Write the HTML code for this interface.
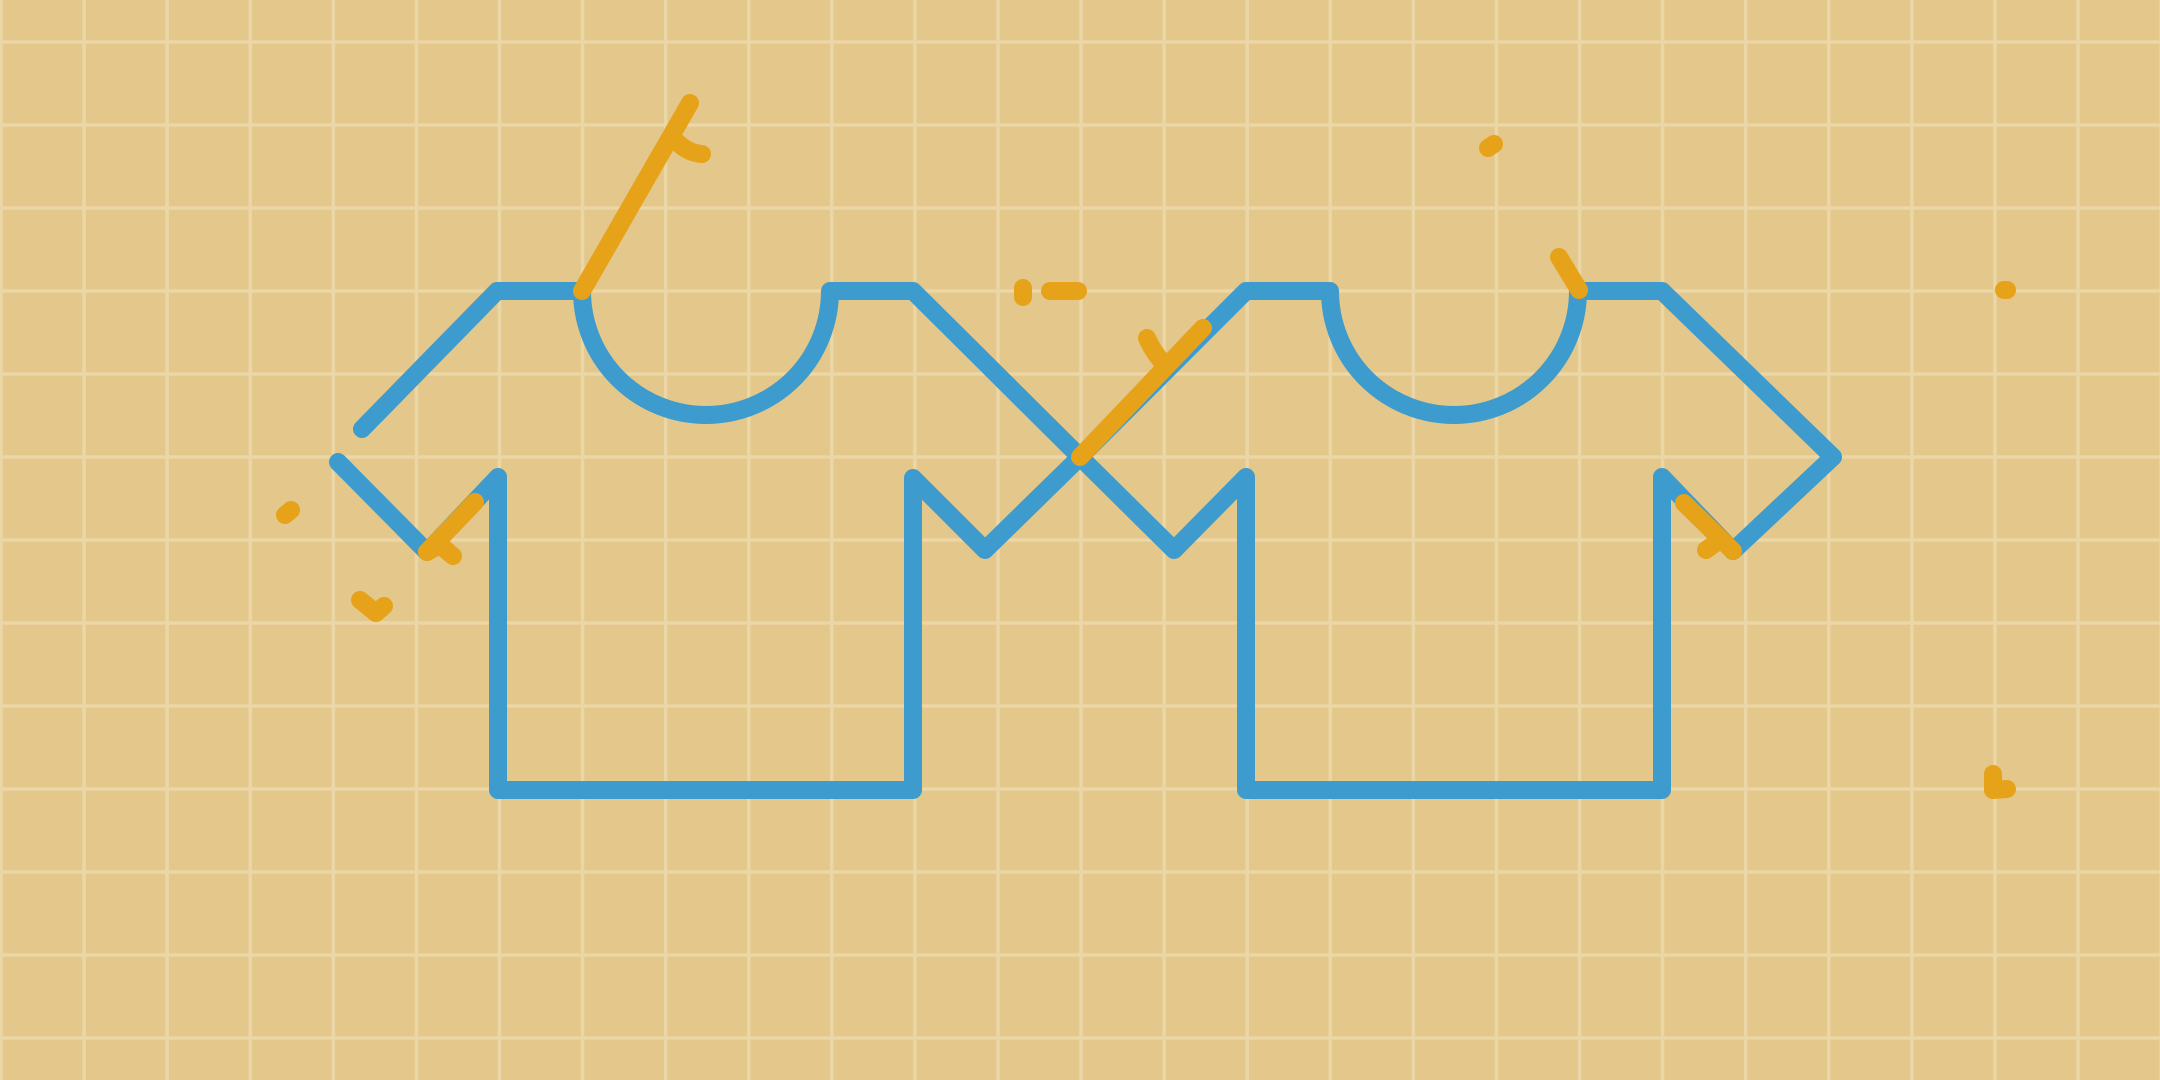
<!DOCTYPE html>
<html><head><meta charset="utf-8"><style>html,body{margin:0;padding:0;background:#e4c78a}svg{display:block}</style></head>
<body>
<svg width="2160" height="1080" viewBox="0 0 2160 1080">
<rect width="2160" height="1080" fill="#e4c78a"/>
<g id="grid" stroke="#ebd6a6" stroke-width="3.5"></g>
<g fill="none" stroke="#3e9bcd" stroke-width="18" stroke-linecap="round" stroke-linejoin="round">
<path d="M362,429 L497,291 L582,291 A124,124 0 0 0 830,291 L913,291 L1080,457 L1246,291 L1330,291 A124,124 0 0 0 1578,291 L1662,291 L1833,457 L1733,551"/>
<path d="M338,462 L427,552 L498,477 L498,790 L913,790 L913,478 L985,550 L1080,457 L1174,550 L1246,477 L1246,790 L1662,790 L1662,477 L1733,551"/>
</g>
<g fill="none" stroke="#e6a219" stroke-width="18" stroke-linecap="round" stroke-linejoin="round">
<path d="M582,291 L690,103"/>
<path d="M677,142 Q688,153 702,154"/>
<path d="M427,552 L475,502"/>
<path d="M427,552 L440,545 L453,556"/>
<path d="M285,515 L291,510"/>
<path d="M360,600 L376,613 L384,606"/>
<path d="M1023,288 L1023,297"/>
<path d="M1050,291 L1078,291"/>
<path d="M1080,457 L1203,328"/>
<path d="M1147,338 Q1152,350 1163,363"/>
<path d="M1488,148 L1494,144"/>
<path d="M1559,257 L1579,290"/>
<path d="M1684,503 L1733,551"/>
<path d="M1706,550 L1717,542"/>
<path d="M2004,290 L2007,290"/>
<path d="M1993,774 L1993,790 L2007,789"/>
</g>
<script>
const g=document.getElementById('grid');
for(let i=0;i<=26;i++){const x=1+i*83.08;const l=document.createElementNS('http://www.w3.org/2000/svg','line');
l.setAttribute('x1',x);l.setAttribute('x2',x);l.setAttribute('y1',0);l.setAttribute('y2',1080);


g.appendChild(l);}
for(let j=0;j<=13;j++){const y=42+j*83;const l=document.createElementNS('http://www.w3.org/2000/svg','line');
l.setAttribute('y1',y);l.setAttribute('y2',y);l.setAttribute('x1',0);l.setAttribute('x2',2160);


g.appendChild(l);}
</script>
</svg>
</body></html>
